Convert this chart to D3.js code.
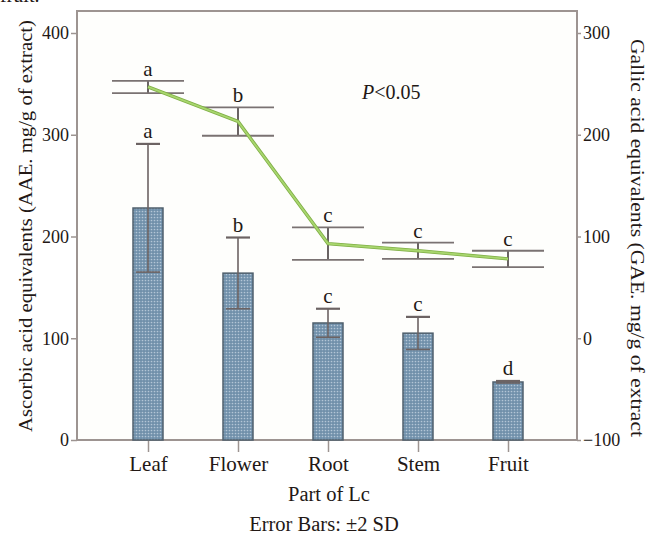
<!DOCTYPE html>
<html>
<head>
<meta charset="utf-8">
<script src="https://cdn.jsdelivr.net/npm/d3@7"></script>
<style>
  html, body { margin: 0; padding: 0; background: #fff; }
  svg { display: block; }
  svg text { font-family: "Liberation Serif", "DejaVu Serif", serif !important; fill: #231815; }
</style>
</head>
<body>
<svg id="chart" width="651" height="536" font-family="Liberation Serif, serif"></svg>
<script>
// ---- data ----
const categories = ["Leaf", "Flower", "Root", "Stem", "Fruit"];
const aaeMean = [228, 164, 115, 105, 57];
const aaeErr = [63, 35, 14, 16, 1];
const aaeLetters = ["a", "b", "c", "c", "d"];
const gaeMean = [247, 213, 93, 86, 78];
const gaeErr = [6, 14, 16, 8, 8];
const gaeLetters = ["a", "b", "c", "c", "c"];
const leftTicks = [0, 100, 200, 300, 400];
const rightTicks = [-100, 0, 100, 200, 300];

const svg = d3.select("#chart");
const frame = { left: 77, right: 577, top: 11, bottom: 440 };

const x = d3.scaleBand().domain(categories).range([103, 553]);
const cx = c => x(c) + x.bandwidth() / 2;
const yL = d3.scaleLinear().domain([0, 400]).range([440, 33]);
const yR = d3.scaleLinear().domain([-100, 300]).range([440, 33]);

const frameColor = "#9d9491";
const errColor = "#6c6363";

// pattern for bars
const defs = svg.append("defs");
const pat = defs.append("pattern").attr("id", "dots")
  .attr("patternUnits", "userSpaceOnUse").attr("width", 3).attr("height", 3);
pat.append("rect").attr("width", 3).attr("height", 3).attr("fill", "#7090aa");
pat.append("circle").attr("cx", 1.5).attr("cy", 1.5).attr("r", 0.85).attr("fill", "#b3c6d6");

// cut-off caption at top
svg.append("text").attr("x", 0).attr("y", 2).attr("font-size", 20).text("fruit.");

// frame
svg.append("rect")
  .attr("x", frame.left).attr("y", frame.top)
  .attr("width", frame.right - frame.left).attr("height", frame.bottom - frame.top)
  .attr("fill", "#fefefc").attr("stroke", frameColor).attr("stroke-width", 2);

// axes
const gL = svg.append("g").attr("transform", `translate(${frame.left},0)`)
  .call(d3.axisLeft(yL).tickValues(leftTicks).tickSize(6).tickPadding(2));
const gR = svg.append("g").attr("transform", `translate(${frame.right},0)`)
  .call(d3.axisRight(yR).tickValues(rightTicks).tickSize(4).tickPadding(2)
    .tickFormat(d => d < 0 ? "\u2212" + Math.abs(d) : d));
const gB = svg.append("g").attr("transform", `translate(0,${frame.bottom})`)
  .call(d3.axisBottom(d3.scalePoint().domain(categories).range([cx("Leaf"), cx("Fruit")]))
    .tickSize(12).tickPadding(4));
[gL, gR, gB].forEach(g => {
  g.attr("font-family", "Liberation Serif, serif");
  g.select(".domain").remove();
  g.selectAll(".tick line").attr("stroke", frameColor).attr("stroke-width", 1.5);
  g.selectAll(".tick text").attr("fill", "#231815");
});
gL.attr("font-size", 18);
gR.attr("font-size", 18);
gB.attr("font-size", 21);

// bars
const bw = 30;
svg.append("g").selectAll("rect").data(categories).join("rect")
  .attr("x", (c) => cx(c) - bw / 2)
  .attr("y", (c, i) => yL(aaeMean[i]))
  .attr("width", bw)
  .attr("height", (c, i) => yL(0) - yL(aaeMean[i]))
  .attr("fill", "url(#dots)")
  .attr("stroke", "#4f5f6c").attr("stroke-width", 1.5);

// bar error bars
const be = svg.append("g").attr("stroke", errColor).attr("stroke-width", 1.6);
categories.forEach((c, i) => {
  const hi = yL(aaeMean[i] + aaeErr[i]), lo = yL(aaeMean[i] - aaeErr[i]);
  be.append("line").attr("x1", cx(c)).attr("x2", cx(c)).attr("y1", hi).attr("y2", lo);
  be.append("line").attr("x1", cx(c) - 12).attr("x2", cx(c) + 12).attr("y1", hi).attr("y2", hi).attr("stroke-width", 2.2);
  be.append("line").attr("x1", cx(c) - 12).attr("x2", cx(c) + 12).attr("y1", lo).attr("y2", lo);
});
svg.append("g").selectAll("text").data(categories).join("text")
  .attr("x", c => cx(c)).attr("y", (c, i) => yL(aaeMean[i] + aaeErr[i]) - 6)
  .attr("text-anchor", "middle").attr("font-size", 21)
  .text((c, i) => aaeLetters[i]);

// line error bars
const le = svg.append("g").attr("stroke", "#7a7272").attr("stroke-width", 1.8);
categories.forEach((c, i) => {
  const hi = yR(gaeMean[i] + gaeErr[i]), lo = yR(gaeMean[i] - gaeErr[i]);
  le.append("line").attr("x1", cx(c)).attr("x2", cx(c)).attr("y1", hi).attr("y2", lo).attr("stroke", "#5a5353");
  le.append("line").attr("x1", cx(c) - 36).attr("x2", cx(c) + 36).attr("y1", hi).attr("y2", hi);
  le.append("line").attr("x1", cx(c) - 36).attr("x2", cx(c) + 36).attr("y1", lo).attr("y2", lo);
});
svg.append("g").selectAll("text").data(categories).join("text")
  .attr("x", c => cx(c)).attr("y", (c, i) => yR(gaeMean[i] + gaeErr[i]) - 5)
  .attr("text-anchor", "middle").attr("font-size", 21)
  .text((c, i) => gaeLetters[i]);

// green line
const line = d3.line().x((c) => cx(c)).y((c, i) => yR(gaeMean[i]));
svg.append("path").datum(categories).attr("d", line)
  .attr("fill", "none").attr("stroke", "#7fae45").attr("stroke-width", 3.4);
svg.append("path").datum(categories).attr("d", line)
  .attr("fill", "none").attr("stroke", "#a8d66e").attr("stroke-width", 1.8);

// P<0.05
const pt = svg.append("text").attr("x", 362).attr("y", 99).attr("font-size", 20);
pt.append("tspan").attr("font-style", "italic").text("P");
pt.append("tspan").text("<0.05");

// axis titles
svg.append("text")
  .attr("transform", "translate(32,226) rotate(-90)")
  .attr("text-anchor", "middle").attr("font-size", 18.5)
  .attr("textLength", 412).attr("lengthAdjust", "spacingAndGlyphs")
  .text("Ascorbic acid equivalents (AAE. mg/g of  extract)");
svg.append("text")
  .attr("transform", "translate(631,238) rotate(90)")
  .attr("text-anchor", "middle").attr("font-size", 18.5)
  .attr("textLength", 398).attr("lengthAdjust", "spacingAndGlyphs")
  .text("Gallic acid equivalents (GAE. mg/g of extract");

// bottom titles
svg.append("text").attr("x", 329).attr("y", 501).attr("text-anchor", "middle")
  .attr("font-size", 20.5).text("Part of Lc");
svg.append("text").attr("x", 324).attr("y", 531).attr("text-anchor", "middle")
  .attr("font-size", 20.5).text("Error Bars: \u00b12 SD");
</script>
</body>
</html>
